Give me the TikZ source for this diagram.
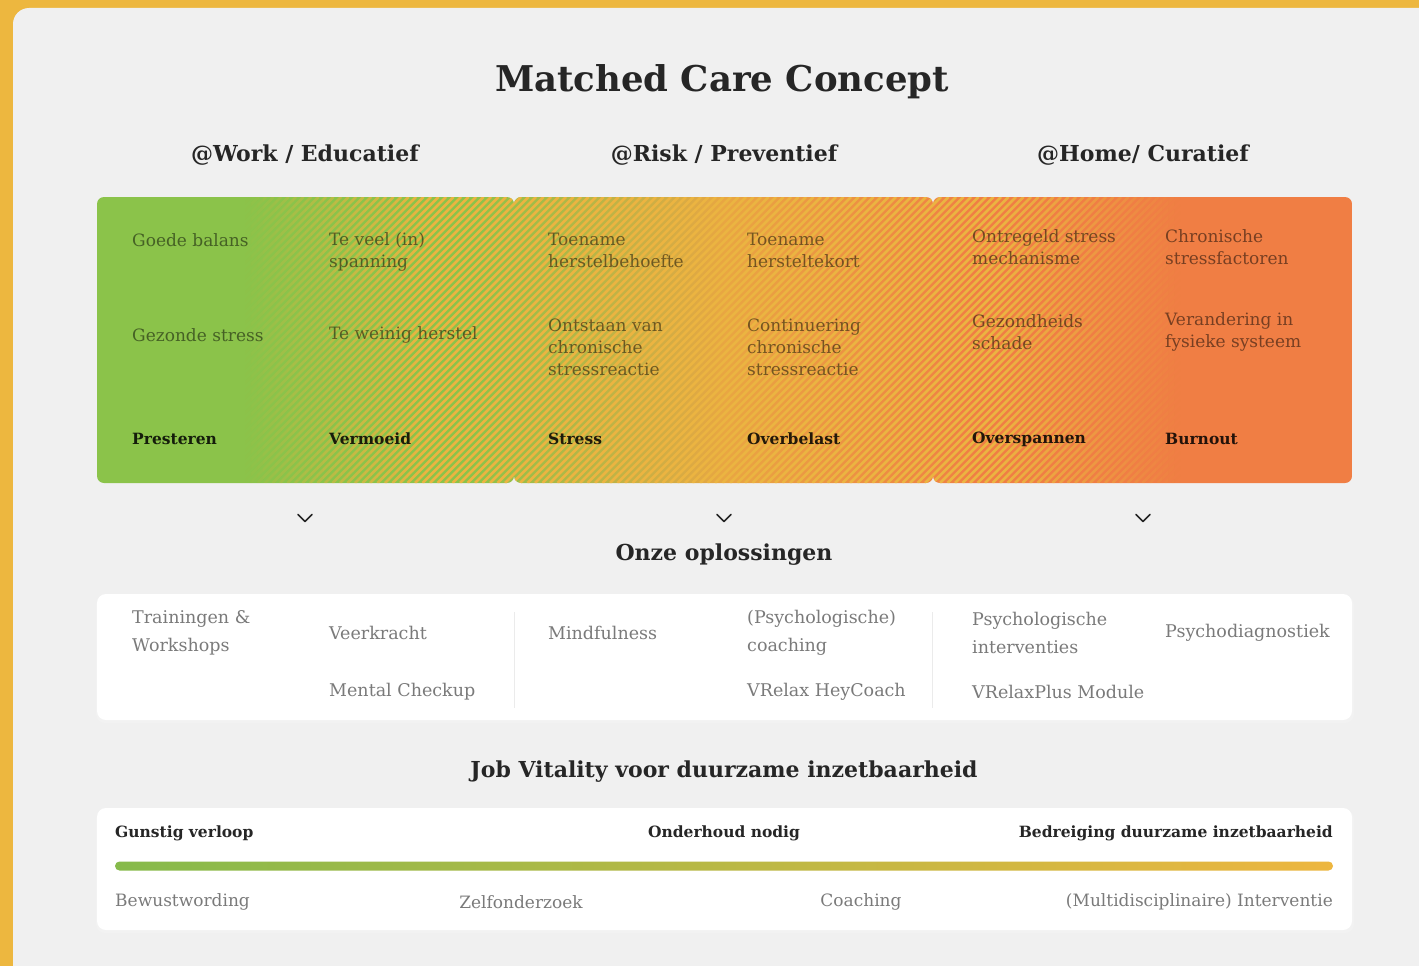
\documentclass[tikz,border=0pt]{standalone}
\usepackage{fontspec}
\setmainfont{DejaVu Serif}
\definecolor{bgyellow}{HTML}{EDB73F}
\definecolor{panel}{HTML}{F0F0F0}
\definecolor{lgreen}{HTML}{8BC34A}
\definecolor{lorange}{HTML}{F07E44}
\definecolor{lyellow}{HTML}{EBB441}
\definecolor{midc}{HTML}{E9A642}
\definecolor{bargreen}{HTML}{86BA4B}
\definecolor{baryellow}{HTML}{EDB63F}
\definecolor{darktxt}{HTML}{262626}
\definecolor{graytxt}{HTML}{7A7A7A}
\pgfdeclarehorizontalshading{bandshade}{100bp}{color(0bp)=(lgreen); color(40bp)=(lgreen); color(50bp)=(midc); color(60bp)=(lorange); color(100bp)=(lorange)}
\newcommand\stripecol[3]{%
  \begin{scope}
    \clip (#1,190) rectangle (#2,490);
    \pgfmathtruncatemacro\ia{(#1-286+200)/7.5}
    \pgfmathtruncatemacro\ib{(#2+200)/7.5+1}
    \foreach \i in {\ia,...,\ib}{%
      \pgfmathsetmacro\xs{-200+\i*7.5}
      \draw[lyellow, line width=2.7pt, opacity=#3] (\xs,483) -- ++(286,-286);
    }
  \end{scope}}
\tikzset{
  titletxt/.style={font=\bfseries\fontsize{35.5}{42}\selectfont, text=darktxt, inner sep=0},
  headtxt/.style={font=\bfseries\fontsize{22}{26}\selectfont, text=darktxt, inner sep=0},
  bandtxt/.style={font=\fontsize{17}{22}\selectfont, text=black, text opacity=0.5, anchor=west, align=left, inner sep=0},
  bandbold/.style={font=\bfseries\fontsize{15.5}{22}\selectfont, text=black, text opacity=0.85, anchor=west, inner sep=0},
  soltxt/.style={font=\fontsize{17.5}{28}\selectfont, text=graytxt, anchor=west, align=left, inner sep=0},
  botbold/.style={font=\bfseries\fontsize{15.5}{20}\selectfont, text=darktxt, inner sep=0},
  bottxt/.style={font=\fontsize{17}{20}\selectfont, text=graytxt, inner sep=0},
  chev/.style={draw=darktxt, line width=1.6pt, line cap=round, line join=round},
  sep/.style={draw=black!8, line width=1pt},
  whitebox/.style={fill=white, rounded corners=9pt},
  boxshadow/.style={fill=black!5, rounded corners=9pt}
}
\begin{document}
\begin{tikzpicture}[x=1pt,y=-1pt]
\useasboundingbox (0,0) rectangle (1419,966);
% background
\fill[bgyellow] (0,0) rectangle (1419,966);
\fill[panel, rounded corners=16pt] (13,8) rectangle (1460,1000);

% titles
\node[titletxt] (title) at (722,82) {Matched Care Concept};
\node[headtxt] (h1) at (305,155) {@Work / Educatief};
\node[headtxt] (h2) at (724,155) {@Risk / Preventief};
\node[headtxt] (h3) at (1143,155) {@Home/ Curatief};

% band
\begin{scope}
  \clip[rounded corners=7pt] (97,197) rectangle (514,483) (514,197) rectangle (933,483) (933,197) rectangle (1352,483);
  \shade[shading=bandshade] (97,197) rectangle (1352,483);
  \foreach \c in {0,...,29} {
    \pgfmathsetmacro\xa{245+\c*6}
    \pgfmathsetmacro\xb{\xa+6}
    \pgfmathsetmacro\opa{(\c+0.5)/30}
    \stripecol{\xa}{\xb}{\opa}
  }
  \stripecol{425}{1000}{1}
  \foreach \c in {0,...,29} {
    \pgfmathsetmacro\xa{1000+\c*6}
    \pgfmathsetmacro\xb{\xa+6}
    \pgfmathsetmacro\opa{1-(\c+0.5)/30}
    \stripecol{\xa}{\xb}{\opa}
  }
\end{scope}

% band texts
\node[bandtxt] (t11) at (132,240) {Goede balans};
\node[bandtxt] (t12) at (329,251.5) {Te veel (in)\\spanning};
\node[bandtxt] (t21) at (132,335) {Gezonde stress};
\node[bandtxt] (t22) at (329,335) {Te weinig herstel};
\node[bandbold] (b1) at (132,439) {Presteren};
\node[bandbold] (b2) at (329,439) {Vermoeid};
\node[bandtxt] (t13) at (548,250) {Toename\\herstelbehoefte};
\node[bandtxt] (t14) at (747,250) {Toename\\hersteltekort};
\node[bandtxt] (t23) at (548,347) {Ontstaan van\\chronische\\stressreactie};
\node[bandtxt] (t24) at (747,347) {Continuering\\chronische\\stressreactie};
\node[bandbold] (b3) at (548,439) {Stress};
\node[bandbold] (b4) at (747,439) {Overbelast};
\node[bandtxt] (t15) at (972,247) {Ontregeld stress\\mechanisme};
\node[bandtxt] (t16) at (1165,247) {Chronische\\stressfactoren};
\node[bandtxt] (t25) at (972,332) {Gezondheids\\schade};
\node[bandtxt] (t26) at (1165,332) {Verandering in\\fysieke systeem};
\node[bandbold] (b5) at (972,439) {Overspannen};
\node[bandbold] (b6) at (1165,439) {Burnout};

% chevrons
\coordinate (c1) at (305,518);
\coordinate (c2) at (724,518);
\coordinate (c3) at (1143,518);
\foreach \c in {c1,c2,c3}
  \draw[chev] ([shift={(-7,-3.5)}]\c) -- ([shift={(0,3.5)}]\c) -- ([shift={(7,-3.5)}]\c);

\node[headtxt] (sol) at (724,555) {Onze oplossingen};

% solutions box
\fill[boxshadow] (96,596) rectangle (1354,723);
\fill[whitebox] (97,594) rectangle (1352,720);
\draw[sep] (514,612) -- (514,708);
\draw[sep] (932,612) -- (932,708);
\node[soltxt] (s1) at (132,633) {Trainingen \&\\Workshops};
\node[soltxt] (s2) at (329,633) {Veerkracht};
\node[soltxt] (s3) at (329,692) {Mental Checkup};
\node[soltxt] (s4) at (548,633) {Mindfulness};
\node[soltxt] (s5) at (747,633) {(Psychologische)\\coaching};
\node[soltxt] (s6) at (747,692) {VRelax HeyCoach};
\node[soltxt] (s7) at (972,633) {Psychologische\\interventies};
\node[soltxt] (s8) at (972,692) {VRelaxPlus Module};
\node[soltxt] (s9) at (1165,633) {Psychodiagnostiek};

\node[headtxt] (job) at (724,772) {Job Vitality voor duurzame inzetbaarheid};

% bottom box
\fill[boxshadow] (96,810) rectangle (1354,933);
\fill[whitebox] (97,808) rectangle (1352,930);
\node[botbold, anchor=west] (g1) at (115,833) {Gunstig verloop};
\node[botbold] (g2) at (724,833) {Onderhoud nodig};
\node[botbold, anchor=east] (g3) at (1333,833) {Bedreiging duurzame inzetbaarheid};
\coordinate (barL) at (115,866);
\coordinate (barR) at (1333,866);
\shade[left color=bargreen, right color=baryellow, rounded corners=4.5pt] ([yshift=-4.5]barL) rectangle ([yshift=4.5]barR);
\node[bottxt, anchor=west] (p1) at (115,902) {Bewustwording};
\node[bottxt] (p2) at (521,902) {Zelfonderzoek};
\node[bottxt] (p3) at (861,902) {Coaching};
\node[bottxt, anchor=east] (p4) at (1333,902) {(Multidisciplinaire) Interventie};
\end{tikzpicture}
\end{document}
